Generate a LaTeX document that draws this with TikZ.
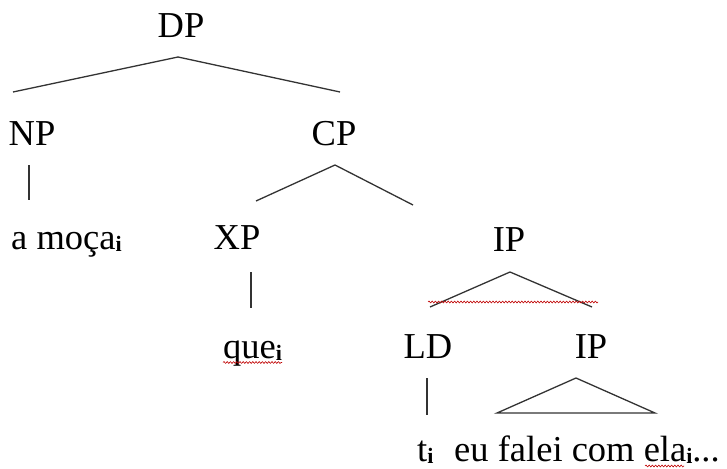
\documentclass[tikz,border=0pt]{standalone}
\usepackage{fontspec}
\setmainfont{Liberation Serif}
\usetikzlibrary{decorations.pathmorphing}
% coindexing subscript
\newcommand{\idx}{\raisebox{-2.5pt}{\fontsize{22}{22}\selectfont\bfseries i}}

\begin{document}
\begin{tikzpicture}[x=1pt,y=-1pt,
  lab/.style={anchor=base, inner sep=0pt, font=\fontsize{36.5}{42}\selectfont},
  leaf/.style={lab, anchor=base west},
  branch/.style={line width=1.3pt, draw=black!80},
  squiggle/.style={draw=red!75!black, line width=0.6pt, decorate,
    decoration={snake, amplitude=0.9pt, segment length=3.2pt}}]
\useasboundingbox (0,0) rectangle (727,468);

% category labels
\node[lab] (DP)  at (181,38)  {DP};
\node[lab] (NP)  at (32,145)  {NP};
\node[lab] (CP)  at (334,145) {CP};
\node[leaf] (moca) at (11,249) {a moça\idx};
\node[lab] (XP)  at (237,249) {XP};
\node[lab] (IP1) at (509,251) {IP};
\node[leaf] (que) at (223,358) {que\idx};
\node[lab] (LD)  at (428,358) {LD};
\node[lab] (IP2) at (591,358) {IP};
\node[leaf] (t)   at (417,461) {t\idx};
\node[leaf] (eu)  at (454,461) {eu falei com ela\idx...};

% branch end points
\coordinate (dp-top)  at (178,57);
\coordinate (np-top)  at (13,92);
\coordinate (cp-top)  at (340,92);
\coordinate (np-bot)  at (29,165);
\coordinate (moca-top) at (29,200);
\coordinate (cp-bot)  at (335,165);
\coordinate (xp-top)  at (256,201);
\coordinate (ip1-top) at (413,205);
\coordinate (xp-bot)  at (251,272);
\coordinate (que-top) at (251,308);
\coordinate (ip1-bot) at (510,272);
\coordinate (ld-top)  at (430,307);
\coordinate (ip2-top) at (592,307);
\coordinate (ld-bot)  at (427,378);
\coordinate (t-top)   at (427,415);
\coordinate (ip2-bot) at (576,378);
\coordinate (tri-l)   at (497,413);
\coordinate (tri-r)   at (655,413);

% branches
\draw[branch] (np-top) -- (dp-top) -- (cp-top);
\draw[branch] (np-bot) -- (moca-top);
\draw[branch] (xp-top) -- (cp-bot) -- (ip1-top);
\draw[branch] (xp-bot) -- (que-top);
\draw[branch] (ld-top) -- (ip1-bot) -- (ip2-top);
\draw[branch] (ld-bot) -- (t-top);
\draw[branch] (tri-l) -- (ip2-bot) -- (tri-r) -- cycle;

% spell-check underlines
\coordinate (sq1-a) at (428,302);
\coordinate (sq1-b) at (598,302);
\draw[squiggle] (sq1-a) -- (sq1-b);
\draw[squiggle] ([yshift=-4.5pt]que.base west) -- ([yshift=-4.5pt]que.base east);
\coordinate (sq3-a) at (645,466);
\coordinate (sq3-b) at (684,466);
\draw[squiggle] (sq3-a) -- (sq3-b);
\end{tikzpicture}
\end{document}
